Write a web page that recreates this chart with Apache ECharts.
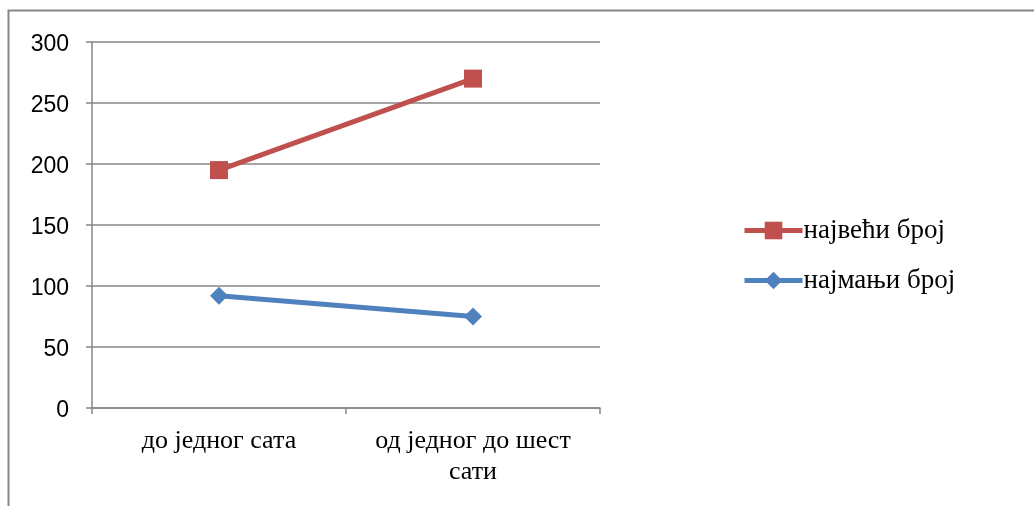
<!DOCTYPE html>
<html><head><meta charset="utf-8">
<script src="https://cdn.jsdelivr.net/npm/echarts@6/dist/echarts.min.js"></script>
<style>html,body{margin:0;padding:0;background:#fff}#c{width:1034px;height:506px}</style>
</head><body><div id="c"></div>
<script>
const categories = ['до једног сата', 'од једног до шест сати'];
const seriesNames = ['највећи број', 'најмањи број'];
const maxValues = [195, 270];
const minValues = [92, 75];
const yTicks = { min: 0, max: 300, interval: 50 };

function wrapLabel(v) {
  if (v.length <= 16) return v;
  const i = v.lastIndexOf(' ');
  return v.slice(0, i) + '\n' + v.slice(i + 1);
}

const chart = echarts.init(document.getElementById('c'));
chart.setOption({
  animation: false,
  graphic: [{
    type: 'rect', shape: { x: 8.5, y: 10.5, width: 1100, height: 600 },
    style: { fill: 'none', stroke: '#868686', lineWidth: 2 }, silent: true
  }],
  grid: { left: 92, right: 434, top: 42, bottom: 98, containLabel: false, outerBoundsMode: 'none' },
  legend: {
    orient: 'vertical', left: 737, top: 212, itemGap: 23,
    itemWidth: 58, itemHeight: 22,
    data: seriesNames,
    lineStyle: { width: 5 },
    textStyle: { fontFamily: 'Liberation Serif', fontSize: 27, color: '#000', padding: [0, 0, 0, -4] }
  },
  xAxis: {
    type: 'category', data: categories, boundaryGap: true,
    axisLine: { lineStyle: { color: '#868686', width: 1.5 } },
    axisTick: { show: true, length: 6, lineStyle: { color: '#868686', width: 1.5 } },
    axisLabel: {
      fontFamily: 'Liberation Serif', fontSize: 26, color: '#000', margin: 18,
      lineHeight: 31, interval: 0, formatter: wrapLabel
    }
  },
  yAxis: {
    type: 'value', min: yTicks.min, max: yTicks.max, interval: yTicks.interval,
    axisLine: { show: true, lineStyle: { color: '#868686', width: 1.5 } },
    axisTick: { show: true, length: 6, lineStyle: { color: '#868686', width: 1.5 } },
    splitLine: { lineStyle: { color: '#868686', width: 1.5 } },
    axisLabel: {
      margin: 23, formatter: '{v|{value}}',
      rich: { v: { fontFamily: 'Liberation Sans', fontSize: 23, color: '#000', padding: [5, 0, 0, 0] } }
    }
  },
  series: [
    { name: seriesNames[0], type: 'line', data: maxValues, symbol: 'rect', symbolSize: 18,
      lineStyle: { color: '#C0504D', width: 5 }, itemStyle: { color: '#C0504D' } },
    { name: seriesNames[1], type: 'line', data: minValues, symbol: 'diamond', symbolSize: 18,
      lineStyle: { color: '#4F81BD', width: 5 }, itemStyle: { color: '#4F81BD' } }
  ]
});
</script></body></html>
